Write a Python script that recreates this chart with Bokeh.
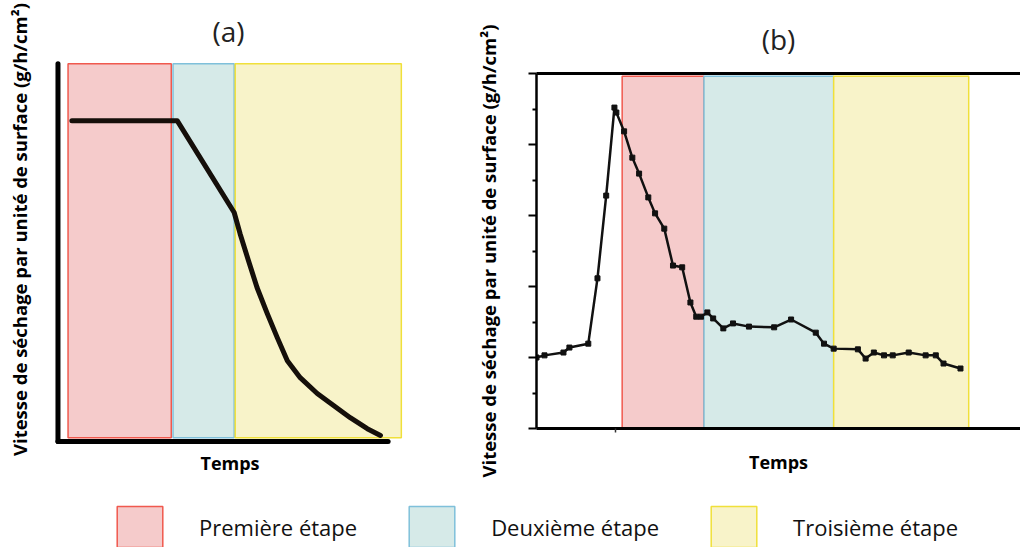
from bokeh.plotting import figure
from bokeh.layouts import column, row
from bokeh.models import FixedTicker, Legend, LegendItem, Label, Title, Range1d, LinearAxis
from bokeh.embed import file_html
from bokeh.resources import INLINE

# ---------------- data ----------------
phase_names = ["Première étape", "Deuxième étape", "Troisième étape"]
phase_fill = ["#f5cbcb", "#d6eae8", "#f8f3c9"]
phase_line = ["#f0594e", "#7fc0da", "#f0e03a"]

# panel (a) : schematic drying-rate curve
a_phase_start = [2.9, 33.1, 51.0]
a_phase_end = [32.6, 50.7, 98.8]
a_phase_bottom = [0.1, 0.1, 0.1]
a_phase_top = [10.0, 10.0, 10.0]
a_time = [4.0, 34.3, 50.7, 52.4, 54.8, 57.3, 60.2, 63.1, 66.0, 69.7, 74.6, 79.3, 84.1, 89.0, 92.8]
a_rate = [8.49, 8.49, 6.06, 5.50, 4.79, 4.07, 3.39, 2.75, 2.14, 1.69, 1.27, 0.95, 0.63, 0.34, 0.16]
a_axis_time_end = 95.0
a_axis_rate_end = 10.0

# panel (b) : measured drying rate
b_phase_start = [17.7, 34.6, 61.4]
b_phase_end = [34.6, 61.4, 89.3]
b_phase_bottom = [0.0, 0.0, 0.0]
b_phase_top = [9.92, 9.92, 9.92]
b_time = [0.0, 1.65, 5.57, 6.8, 10.7, 12.6, 14.4, 16.1, 16.5, 18.1, 19.8, 21.2, 23.1, 24.5,
          26.4, 28.2, 30.1, 31.8, 33.0, 34.0, 35.3, 36.5, 38.6, 40.6, 43.9, 49.1, 52.6, 57.7,
          59.4, 61.4, 66.4, 68.0, 69.7, 71.8, 73.6, 76.9, 80.4, 82.5, 84.1, 87.6]
b_rate = [2.00, 2.06, 2.14, 2.28, 2.39, 4.23, 6.56, 9.04, 8.90, 8.37, 7.63, 7.18, 6.51, 6.06,
          5.63, 4.59, 4.54, 3.55, 3.15, 3.15, 3.27, 3.10, 2.82, 2.96, 2.87, 2.85, 3.07, 2.70,
          2.39, 2.25, 2.23, 1.97, 2.14, 2.06, 2.06, 2.14, 2.06, 2.06, 1.83, 1.69]
b_major_ticks = [0, 2, 4, 6, 8, 10]
b_minor_ticks = [1, 3, 5, 7, 9]
b_time_ticks = [16.4]

panel_titles = ["(a)", "(b)"]
ylabel = "Vitesse de séchage par unité de surface (g/h/cm²)"
xlabel = "Temps"
FONT = "Open Sans"


def style_common(p):
    p.outline_line_color = None
    p.background_fill_color = "white"
    p.border_fill_color = "white"
    p.xgrid.visible = False
    p.ygrid.visible = False
    p.frame_align = False


def blank_labels(ax, ticks):
    ax.major_label_overrides = {t: "" for t in ticks}
    ax.major_label_standoff = 0


# ---------------- panel (a) ----------------
# frame reaches up to the title; the axis lines of the schematic are drawn in data space
pa = figure(width=472, height=487, output_backend="svg", toolbar_location=None,
            x_range=Range1d(-1, 100), y_range=Range1d(-0.079, 11.3),
            min_border_left=54, min_border_right=67, min_border_top=14, min_border_bottom=43)
style_common(pa)
pa.add_layout(Label(text=panel_titles[0], x=174, y=414, x_units="screen", y_units="screen",
                    text_align="center", text_baseline="middle", text_font=FONT,
                    text_font_size="28px", text_color="#222222"))
pa.quad(left=a_phase_start, right=a_phase_end, bottom=a_phase_bottom, top=a_phase_top,
        fill_color=phase_fill, line_color=phase_line, line_width=1.5)
pa.segment(x0=[0, 0], y0=[0, 0], x1=[a_axis_time_end, 0], y1=[0, a_axis_rate_end],
           line_width=5, line_color="black", line_cap="round")
pa.line(a_time, a_rate, line_width=5, line_color="#150f0a", line_cap="round", line_join="round")

for ax in (pa.xaxis[0], pa.yaxis[0]):
    ax.ticker = FixedTicker(ticks=[], minor_ticks=[])
    ax.axis_line_color = None
    ax.major_tick_line_color = None
    ax.minor_tick_line_color = None
    ax.major_label_standoff = 0
    ax.axis_label_text_font = FONT
    ax.axis_label_text_font_style = "bold"
    ax.axis_label_text_color = "black"
pa.xaxis.axis_label = xlabel
pa.xaxis.axis_label_text_font_size = "18px"
pa.xaxis.axis_label_standoff = 6
pa.yaxis.axis_label = ylabel
pa.yaxis.axis_label_text_font_size = "18.5px"
pa.yaxis.axis_label_standoff = 23

# ---------------- panel (b) ----------------
pb = figure(width=548, height=487, output_backend="svg", toolbar_location=None,
            x_range=Range1d(0, 100), y_range=Range1d(0, 10),
            min_border_left=63, min_border_right=0, min_border_top=73, min_border_bottom=59)
style_common(pb)
pb.title = Title(text=panel_titles[1], align="center", text_font=FONT, text_font_size="28px",
                 text_font_style="normal", text_color="#222222", standoff=32)
pb.quad(left=b_phase_start, right=b_phase_end, bottom=b_phase_bottom, top=b_phase_top,
        fill_color=phase_fill, line_color=phase_line, line_width=1.5)
pb.line(b_time, b_rate, line_width=2.5, line_color="#111111")
pb.scatter(b_time, b_rate, marker="square", size=5, color="#111111")

yb = pb.yaxis[0]
yb.ticker = FixedTicker(ticks=b_major_ticks, minor_ticks=b_minor_ticks)
blank_labels(yb, b_major_ticks)
yb.major_tick_out = 8
yb.major_tick_in = 0
yb.minor_tick_out = 4
yb.minor_tick_in = 0
yb.major_tick_line_width = 2
yb.minor_tick_line_width = 2
yb.major_tick_line_color = "black"
yb.minor_tick_line_color = "black"
yb.axis_line_width = 2.5
yb.axis_line_color = "black"
yb.axis_label = ylabel
yb.axis_label_text_font = FONT
yb.axis_label_text_font_size = "18.5px"
yb.axis_label_text_font_style = "bold"
yb.axis_label_text_color = "black"
yb.axis_label_standoff = 28

xb = pb.xaxis[0]
xb.ticker = FixedTicker(ticks=b_time_ticks, minor_ticks=[])
blank_labels(xb, b_time_ticks)
xb.major_tick_out = 4
xb.major_tick_in = 0
xb.major_tick_line_width = 1.5
xb.major_tick_line_color = "#333333"
xb.minor_tick_line_color = None
xb.axis_line_width = 3
xb.axis_line_color = "black"
xb.axis_label = xlabel
xb.axis_label_text_font = FONT
xb.axis_label_text_font_size = "18px"
xb.axis_label_text_font_style = "bold"
xb.axis_label_text_color = "black"
xb.axis_label_standoff = 17

top_axis = LinearAxis(ticker=FixedTicker(ticks=[], minor_ticks=[]), axis_line_width=3,
                      axis_line_color="black", major_tick_line_color=None,
                      minor_tick_line_color=None, major_label_standoff=0)
pb.add_layout(top_axis, "above")

# ---------------- legend strip ----------------
pl = figure(width=1020, height=60, output_backend="svg", toolbar_location=None,
            x_range=Range1d(0, 1), y_range=Range1d(0, 1),
            min_border=0, min_border_left=0, min_border_right=0, min_border_top=0,
            min_border_bottom=0)
style_common(pl)
pl.axis.visible = False
items = []
for i in range(3):
    r = pl.quad(left=[2], right=[3], bottom=[2], top=[3], fill_color=phase_fill[i],
                line_color=phase_line[i], line_width=1.5)
    items.append(LegendItem(label=phase_names[i], renderers=[r]))
legend = Legend(items=items, orientation="horizontal", location=(111, -5),
                glyph_width=57, glyph_height=51, label_height=51, label_standoff=31,
                spacing=46, padding=0, margin=0, border_line_alpha=0,
                background_fill_alpha=0, label_text_font=FONT, label_text_font_size="22px",
                label_text_color="#111111")
pl.add_layout(legend, "center")

layout = column(row(pa, pb), pl)
open("out.html", "w").write(file_html(layout, INLINE))
